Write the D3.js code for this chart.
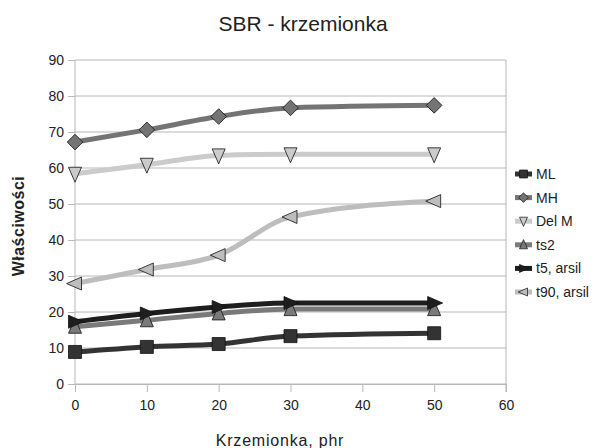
<!DOCTYPE html>
<html>
<head>
<meta charset="utf-8">
<script src="https://cdn.jsdelivr.net/npm/d3@7"></script>
<style>
  body { margin: 0; background: #fff; }
  text { font-family: "Liberation Sans", Arial, sans-serif; fill: #222; }
</style>
</head>
<body>
<script>
// data
var xValues = [0, 10, 20, 30, 50];
var seriesNames = ["ML", "MH", "Del M", "ts2", "t5, arsil", "t90, arsil"];
var mlValues = [8.9, 10.3, 11.1, 13.3, 14.1];
var mhValues = [67.2, 70.6, 74.3, 76.7, 77.4];
var delMValues = [58.4, 60.9, 63.5, 63.8, 63.8];
var ts2Values = [15.9, 17.7, 19.6, 20.8, 20.8];
var t5Values = [17.3, 19.6, 21.4, 22.5, 22.5];
var t90Values = [27.9, 31.8, 35.8, 46.4, 50.8];
var xTicks = [0, 10, 20, 30, 40, 50, 60];
var yTicks = [0, 10, 20, 30, 40, 50, 60, 70, 80, 90];

var lineColors = ["#333333", "#747474", "#cbcbcb", "#7a7a7a", "#1e1e1e", "#bdbdbd"];
var markerTypes = ["square", "diamond", "down", "up", "right", "left"];

var allValues = [mlValues, mhValues, delMValues, ts2Values, t5Values, t90Values];
var series = seriesNames.map(function (name, i) {
  return {
    name: name,
    values: xValues.map(function (x, j) { return { x: x, y: allValues[i][j] }; }),
    color: lineColors[i],
    marker: markerTypes[i]
  };
});

var outerWidth = 600, outerHeight = 448;
var margin = { top: 60, left: 75 };
var width = 431, height = 324;

var svg = d3.select("body").append("svg")
  .attr("width", outerWidth)
  .attr("height", outerHeight);

var xScale = d3.scaleLinear().domain([0, 60]).range([0, width]);
var yScale = d3.scaleLinear().domain([0, 90]).range([height, 0]);

var g = svg.append("g")
  .attr("transform", "translate(" + margin.left + "," + margin.top + ")");

// grid lines
g.selectAll(".grid")
  .data(yTicks)
  .enter().append("line")
  .attr("x1", 0).attr("x2", width)
  .attr("y1", function (d) { return yScale(d); })
  .attr("y2", function (d) { return yScale(d); })
  .attr("stroke", "#b8b8b8")
  .attr("stroke-width", 1);

// right border
g.append("line")
  .attr("x1", width).attr("x2", width)
  .attr("y1", 0).attr("y2", height + 8)
  .attr("stroke", "#b8b8b8");

var xAxis = d3.axisBottom(xScale).tickValues(xTicks).tickSize(8).tickPadding(8);
var yAxis = d3.axisLeft(yScale).tickValues(yTicks).tickSize(7).tickPadding(4);

var gx = g.append("g")
  .attr("transform", "translate(0," + height + ")")
  .call(xAxis);
var gy = g.append("g").call(yAxis);

[gx, gy].forEach(function (a) {
  a.select(".domain").attr("stroke", "#b8b8b8");
  a.selectAll(".tick line").attr("stroke", "#b8b8b8");
  a.selectAll(".tick text")
    .attr("font-size", 14)
    .attr("font-family", "Liberation Sans, Arial, sans-serif")
    .attr("fill", "#222");
});
gy.select(".domain").attr("d", "M0," + (height) + "V0");

// marker shapes
function markerPath(type, s) {
  var h = s / 2;
  switch (type) {
    case "square": return "M" + -h + "," + -h + "H" + h + "V" + h + "H" + -h + "Z";
    case "diamond": return "M0," + -h * 1.2 + "L" + h * 1.2 + ",0L0," + h * 1.2 + "L" + -h * 1.2 + ",0Z";
    case "down": return "M" + -h + "," + -h + "H" + h + "L0," + h * 1.3 + "Z";
    case "up": return "M" + -h + "," + h + "H" + h + "L0," + -h * 1.3 + "Z";
    case "right": return "M" + -h + "," + -h + "V" + h + "L" + h * 1.3 + ",0Z";
    case "left": return "M" + h + "," + -h + "V" + h + "L" + -h * 1.3 + ",0Z";
  }
}

var line = d3.line()
  .x(function (d) { return xScale(d.x); })
  .y(function (d) { return yScale(d.y); })
  .curve(d3.curveMonotoneX);

// draw order so that t5 sits over ts2 like the reference
var order = [2, 1, 5, 3, 4, 0];
order.forEach(function (i) {
  var s = series[i];
  g.append("path")
    .attr("d", line(s.values))
    .attr("fill", "none")
    .attr("stroke", s.color)
    .attr("stroke-width", 5);
});
order.forEach(function (i) {
  var s = series[i];
  g.selectAll(".m" + i)
    .data(s.values)
    .enter().append("path")
    .attr("transform", function (d) {
      return "translate(" + xScale(d.x) + "," + yScale(d.y) + ")";
    })
    .attr("d", markerPath(s.marker, 13))
    .attr("fill", s.color)
    .attr("stroke", "#111")
    .attr("stroke-width", 0.8);
});

// legend
var legend = svg.selectAll(".legend")
  .data(series)
  .enter().append("g")
  .attr("transform", function (d, i) {
    return "translate(515," + (174 + i * 23.6) + ")";
  });
legend.append("line")
  .attr("x1", 0).attr("x2", 17)
  .attr("stroke", function (d) { return d.color; })
  .attr("stroke-width", 5);
legend.append("path")
  .attr("transform", "translate(8.5,0)")
  .attr("d", function (d) { return markerPath(d.marker, 8); })
  .attr("fill", function (d) { return d.color; })
  .attr("stroke", "#111")
  .attr("stroke-width", 0.7);
legend.append("text")
  .attr("x", 21)
  .attr("y", 5)
  .attr("font-size", 14)
  .text(function (d) { return d.name; });

// titles
svg.append("text")
  .attr("x", 303)
  .attr("y", 31)
  .attr("text-anchor", "middle")
  .attr("font-size", 21)
  .text("SBR - krzemionka");

svg.append("text")
  .attr("x", 280)
  .attr("y", 446)
  .attr("text-anchor", "middle")
  .attr("font-size", 16)
  .attr("letter-spacing", 0.8)
  .text("Krzemionka, phr");

svg.append("text")
  .attr("transform", "translate(24,226) rotate(-90)")
  .attr("text-anchor", "middle")
  .attr("font-size", 16)
  .attr("font-weight", "bold")
  .attr("letter-spacing", 0.5)
  .text("Właściwości");
</script>
</body>
</html>
